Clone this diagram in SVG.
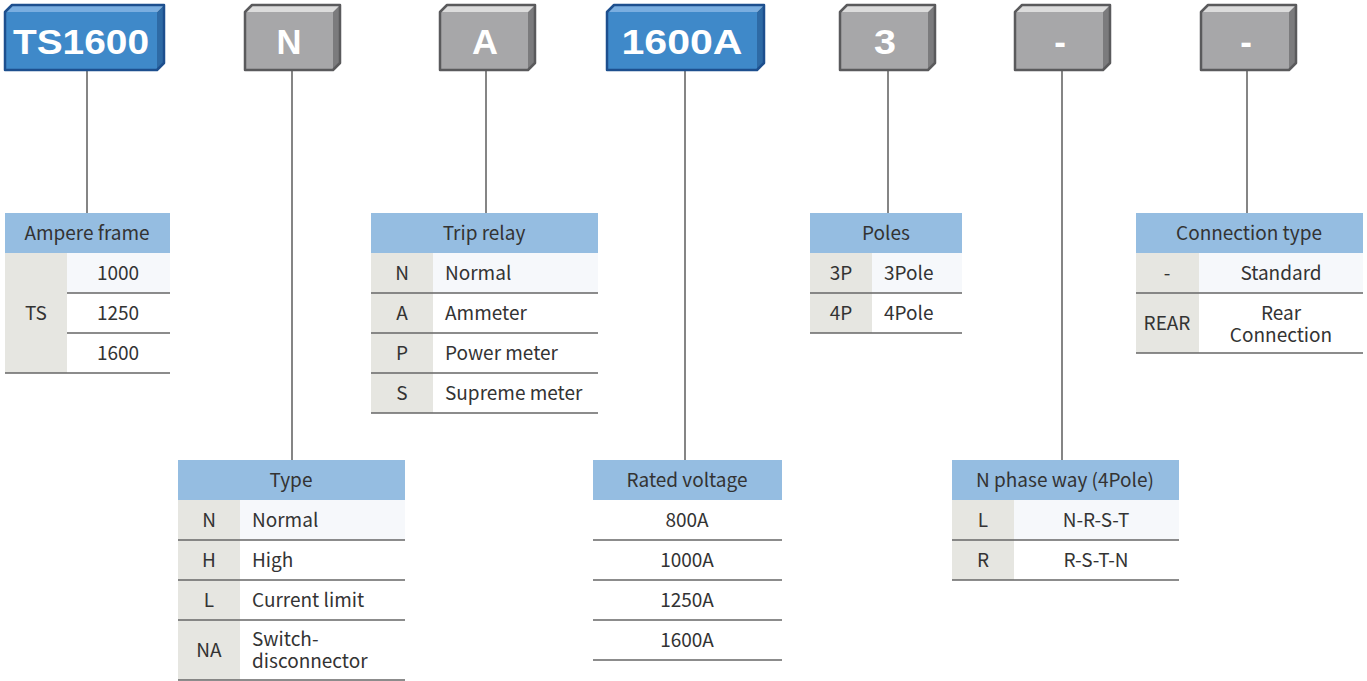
<svg xmlns="http://www.w3.org/2000/svg" width="1367" height="681" viewBox="0 0 1367 681">
<style>
.t{font-family:"Noto Sans CJK KR","Noto Sans",sans-serif;font-size:19px;fill:#333}
.c{text-anchor:middle}
.hd{fill:#95bde1}
.lc{fill:#e6e6e1}
.fr{fill:#f6f8fb}
.sep{stroke:#666;stroke-width:1.5}
.ln{stroke:#858585;stroke-width:2;fill:none}
.bt{font-family:"Liberation Sans",Arial,sans-serif;font-weight:bold;font-size:35px;fill:#fff;text-anchor:middle}
.bf{fill:#3f89c9}.btp{fill:#7aaee0}.bsd{fill:#2e6aa5}.bol{fill:none;stroke:#1d4f8e;stroke-width:2.5;stroke-linejoin:round}
.gf{fill:#a7a7a9}.gtp{fill:#dcdcdc}.gsd{fill:#7b7b7d}.gol{fill:none;stroke:#5a5a5c;stroke-width:2.5;stroke-linejoin:round}
</style>
<rect width="1367" height="681" fill="#fff"/>
<g id="connectors">
<line class="ln" x1="87" y1="70" x2="87" y2="213"/>
<line class="ln" x1="292" y1="70" x2="292" y2="460"/>
<line class="ln" x1="486" y1="70" x2="486" y2="213"/>
<line class="ln" x1="685" y1="70" x2="685" y2="460"/>
<line class="ln" x1="888" y1="70" x2="888" y2="213"/>
<line class="ln" x1="1062" y1="70" x2="1062" y2="460"/>
<line class="ln" x1="1247" y1="70" x2="1247" y2="213"/>
</g>
<g id="box-ts1600">
<rect class="bf" x="5" y="12" width="152" height="58"/>
<polygon class="btp" points="5,12 12,5 164,5 157,12"/>
<polygon class="bsd" points="157,12 164,5 164,63 157,70"/>
<polygon class="bol" points="5,12 12,5 164,5 164,63 157,70 5,70"/>
<text class="bt" x="81" y="54" textLength="136" lengthAdjust="spacingAndGlyphs">TS1600</text>
</g>
<g id="box-n">
<rect class="gf" x="245" y="12" width="88" height="58"/>
<polygon class="gtp" points="245,12 252,5 340,5 333,12"/>
<polygon class="gsd" points="333,12 340,5 340,63 333,70"/>
<polygon class="gol" points="245,12 252,5 340,5 340,63 333,70 245,70"/>
<text class="bt" x="289" y="54" textLength="25" lengthAdjust="spacingAndGlyphs">N</text>
</g>
<g id="box-a">
<rect class="gf" x="440" y="12" width="88" height="58"/>
<polygon class="gtp" points="440,12 447,5 535,5 528,12"/>
<polygon class="gsd" points="528,12 535,5 535,63 528,70"/>
<polygon class="gol" points="440,12 447,5 535,5 535,63 528,70 440,70"/>
<text class="bt" x="485" y="54" textLength="26" lengthAdjust="spacingAndGlyphs">A</text>
</g>
<g id="box-1600a">
<rect class="bf" x="607" y="12" width="150" height="58"/>
<polygon class="btp" points="607,12 614,5 764,5 757,12"/>
<polygon class="bsd" points="757,12 764,5 764,63 757,70"/>
<polygon class="bol" points="607,12 614,5 764,5 764,63 757,70 607,70"/>
<text class="bt" x="682" y="54" textLength="121" lengthAdjust="spacingAndGlyphs">1600A</text>
</g>
<g id="box-3">
<rect class="gf" x="840" y="12" width="88" height="58"/>
<polygon class="gtp" points="840,12 847,5 935,5 928,12"/>
<polygon class="gsd" points="928,12 935,5 935,63 928,70"/>
<polygon class="gol" points="840,12 847,5 935,5 935,63 928,70 840,70"/>
<text class="bt" x="885" y="54" textLength="22" lengthAdjust="spacingAndGlyphs">3</text>
</g>
<g id="box-dash1">
<rect class="gf" x="1015" y="12" width="88" height="58"/>
<polygon class="gtp" points="1015,12 1022,5 1110,5 1103,12"/>
<polygon class="gsd" points="1103,12 1110,5 1110,63 1103,70"/>
<polygon class="gol" points="1015,12 1022,5 1110,5 1110,63 1103,70 1015,70"/>
<text class="bt" x="1060" y="54">-</text>
</g>
<g id="box-dash2">
<rect class="gf" x="1201" y="12" width="88" height="58"/>
<polygon class="gtp" points="1201,12 1208,5 1296,5 1289,12"/>
<polygon class="gsd" points="1289,12 1296,5 1296,63 1289,70"/>
<polygon class="gol" points="1201,12 1208,5 1296,5 1296,63 1289,70 1201,70"/>
<text class="bt" x="1246" y="54">-</text>
</g>
<g id="table-ampere-frame">
<rect class="hd" x="5" y="213" width="165" height="40"/>
<rect class="lc" x="5" y="253" width="62" height="120"/>
<rect class="fr" x="67" y="253" width="103" height="40"/>
<line class="sep" x1="67" y1="293" x2="170" y2="293"/>
<line class="sep" x1="67" y1="333" x2="170" y2="333"/>
<line class="sep" x1="5" y1="373" x2="170" y2="373"/>
<text class="t c" x="87" y="240">Ampere frame</text>
<text class="t c" x="36" y="320">TS</text>
<text class="t c" x="118" y="280">1000</text>
<text class="t c" x="118" y="320">1250</text>
<text class="t c" x="118" y="360">1600</text>
</g>
<g id="table-trip-relay">
<rect class="hd" x="371" y="213" width="227" height="40"/>
<rect class="lc" x="371" y="253" width="62" height="160"/>
<rect class="fr" x="433" y="253" width="165" height="40"/>
<line class="sep" x1="371" y1="293" x2="598" y2="293"/>
<line class="sep" x1="371" y1="333" x2="598" y2="333"/>
<line class="sep" x1="371" y1="373" x2="598" y2="373"/>
<line class="sep" x1="371" y1="413" x2="598" y2="413"/>
<text class="t c" x="484" y="240">Trip relay</text>
<text class="t c" x="402" y="280">N</text>
<text class="t" x="445" y="280">Normal</text>
<text class="t c" x="402" y="320">A</text>
<text class="t" x="445" y="320">Ammeter</text>
<text class="t c" x="402" y="360">P</text>
<text class="t" x="445" y="360">Power meter</text>
<text class="t c" x="402" y="400">S</text>
<text class="t" x="445" y="400">Supreme meter</text>
</g>
<g id="table-poles">
<rect class="hd" x="810" y="213" width="152" height="40"/>
<rect class="lc" x="810" y="253" width="62" height="80"/>
<rect class="fr" x="872" y="253" width="90" height="40"/>
<line class="sep" x1="810" y1="293" x2="962" y2="293"/>
<line class="sep" x1="810" y1="333" x2="962" y2="333"/>
<text class="t c" x="886" y="240">Poles</text>
<text class="t c" x="841" y="280">3P</text>
<text class="t" x="884" y="280">3Pole</text>
<text class="t c" x="841" y="320">4P</text>
<text class="t" x="884" y="320">4Pole</text>
</g>
<g id="table-connection-type">
<rect class="hd" x="1136" y="213" width="227" height="40"/>
<rect class="lc" x="1136" y="253" width="63" height="100"/>
<rect class="fr" x="1199" y="253" width="164" height="40"/>
<line class="sep" x1="1136" y1="293" x2="1363" y2="293"/>
<line class="sep" x1="1136" y1="353" x2="1363" y2="353"/>
<text class="t c" x="1249" y="240">Connection type</text>
<text class="t c" x="1167" y="280">-</text>
<text class="t c" x="1281" y="280">Standard</text>
<text class="t c" x="1167" y="330">REAR</text>
<text class="t c" x="1281" y="320">Rear</text>
<text class="t c" x="1281" y="342">Connection</text>
</g>
<g id="table-type">
<rect class="hd" x="178" y="460" width="227" height="40"/>
<rect class="lc" x="178" y="500" width="62" height="180"/>
<rect class="fr" x="240" y="500" width="165" height="40"/>
<line class="sep" x1="178" y1="540" x2="405" y2="540"/>
<line class="sep" x1="178" y1="580" x2="405" y2="580"/>
<line class="sep" x1="178" y1="620" x2="405" y2="620"/>
<line class="sep" x1="178" y1="680" x2="405" y2="680"/>
<text class="t c" x="291" y="487">Type</text>
<text class="t c" x="209" y="527">N</text>
<text class="t" x="252" y="527">Normal</text>
<text class="t c" x="209" y="567">H</text>
<text class="t" x="252" y="567">High</text>
<text class="t c" x="209" y="607">L</text>
<text class="t" x="252" y="607">Current limit</text>
<text class="t c" x="209" y="657">NA</text>
<text class="t" x="252" y="646">Switch-</text>
<text class="t" x="252" y="668">disconnector</text>
</g>
<g id="table-rated-voltage">
<rect class="hd" x="593" y="460" width="189" height="40"/>
<line class="sep" x1="593" y1="540" x2="782" y2="540"/>
<line class="sep" x1="593" y1="580" x2="782" y2="580"/>
<line class="sep" x1="593" y1="620" x2="782" y2="620"/>
<line class="sep" x1="593" y1="660" x2="782" y2="660"/>
<text class="t c" x="687" y="487">Rated voltage</text>
<text class="t c" x="687" y="527">800A</text>
<text class="t c" x="687" y="567">1000A</text>
<text class="t c" x="687" y="607">1250A</text>
<text class="t c" x="687" y="647">1600A</text>
</g>
<g id="table-n-phase-way">
<rect class="hd" x="952" y="460" width="227" height="40"/>
<rect class="lc" x="952" y="500" width="62" height="80"/>
<rect class="fr" x="1014" y="500" width="165" height="40"/>
<line class="sep" x1="952" y1="540" x2="1179" y2="540"/>
<line class="sep" x1="952" y1="580" x2="1179" y2="580"/>
<text class="t c" x="1065" y="487">N phase way (4Pole)</text>
<text class="t c" x="983" y="527">L</text>
<text class="t c" x="1096" y="527">N-R-S-T</text>
<text class="t c" x="983" y="567">R</text>
<text class="t c" x="1096" y="567">R-S-T-N</text>
</g>
</svg>
